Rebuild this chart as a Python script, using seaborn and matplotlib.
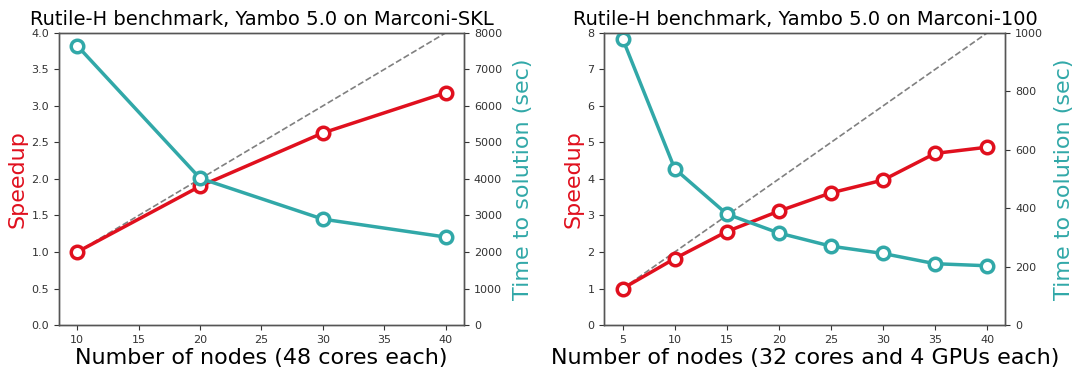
import matplotlib
matplotlib.use("Agg")
import matplotlib.pyplot as plt
import seaborn as sns
import pandas as pd

# === Data
skl_nodes = [10, 20, 30, 40]
skl_speedup = [1.0, 1.9, 2.63, 3.18]
skl_time = [7650, 4020, 2900, 2410]

m100_nodes = [5, 10, 15, 20, 25, 30, 35, 40]
m100_speedup = [1.0, 1.82, 2.56, 3.12, 3.62, 3.97, 4.70, 4.87]
m100_time = [980, 535, 380, 315, 270, 245, 210, 203]

RED = "#e0101e"
TEAL = "#31a8a8"

sns.set_style("white")
plt.rcParams["font.family"] = ["DejaVu Sans"]
plt.rcParams["text.color"] = "black"
plt.rcParams["axes.labelcolor"] = "black"


def draw_panel(fig, rect, nodes, speedup, time, title, xlabel, ylim, yticks, y2lim, y2ticks, xticks):
    ax = fig.add_axes(rect)
    ax2 = ax.twinx()
    df = pd.DataFrame({"nodes": nodes, "speedup": speedup, "time": time})
    df["ideal"] = df.nodes / df.nodes.iloc[0]

    sns.lineplot(data=df, x="nodes", y="ideal", ax=ax, color="gray", linestyle="--", linewidth=1.2)
    sns.lineplot(data=df, x="nodes", y="speedup", ax=ax, color=RED, linewidth=2.5, marker="o",
                 markersize=9, markerfacecolor="white", markeredgecolor=RED, markeredgewidth=2.5)
    sns.lineplot(data=df, x="nodes", y="time", ax=ax2, color=TEAL, linewidth=2.5, marker="o",
                 markersize=9, markerfacecolor="white", markeredgecolor=TEAL, markeredgewidth=2.5)

    ax.set_ylim(*ylim)
    ax.set_yticks(yticks)
    ax2.set_ylim(*y2lim)
    ax2.set_yticks(y2ticks)
    ax.set_xticks(xticks)
    pad = (xticks[-1] - xticks[0]) * 0.05
    ax.set_xlim(xticks[0] - pad, xticks[-1] + pad)

    ax.set_ylabel("Speedup", color=RED, fontsize=16, labelpad=3)
    ax2.set_ylabel("Time to solution (sec)", color=TEAL, fontsize=16, labelpad=8)
    ax.set_xlabel(xlabel, fontsize=16, labelpad=2)
    ax.set_title(title, fontsize=14, pad=6)

    for a in (ax, ax2):
        a.tick_params(labelsize=8, colors="#333333", length=3.5, width=0.8, left=(a is ax), right=(a is ax2), bottom=True)
        for s in a.spines.values():
            s.set_color("#555555")
            s.set_linewidth(1.0)
    return ax, ax2


fig = plt.figure(figsize=(10.87, 3.69), dpi=100)

ax_l, _ = draw_panel(fig, [0.054, 0.119, 0.373, 0.792], skl_nodes, skl_speedup, skl_time,
                     "Rutile-H benchmark, Yambo 5.0 on Marconi-SKL", "Number of nodes (48 cores each)",
                     (0, 4.0), [0, 0.5, 1.0, 1.5, 2.0, 2.5, 3.0, 3.5, 4.0],
                     (0, 8000), list(range(0, 8001, 1000)), [10, 15, 20, 25, 30, 35, 40])
ax_l.set_yticklabels(["0.0", "0.5", "1.0", "1.5", "2.0", "2.5", "3.0", "3.5", "4.0"])

draw_panel(fig, [0.556, 0.119, 0.369, 0.792], m100_nodes, m100_speedup, m100_time,
           "Rutile-H benchmark, Yambo 5.0 on Marconi-100", "Number of nodes (32 cores and 4 GPUs each)",
           (0, 8), list(range(0, 9)),
           (0, 1000), [0, 200, 400, 600, 800, 1000], [5, 10, 15, 20, 25, 30, 35, 40])

fig.savefig("out.png", dpi=100)
